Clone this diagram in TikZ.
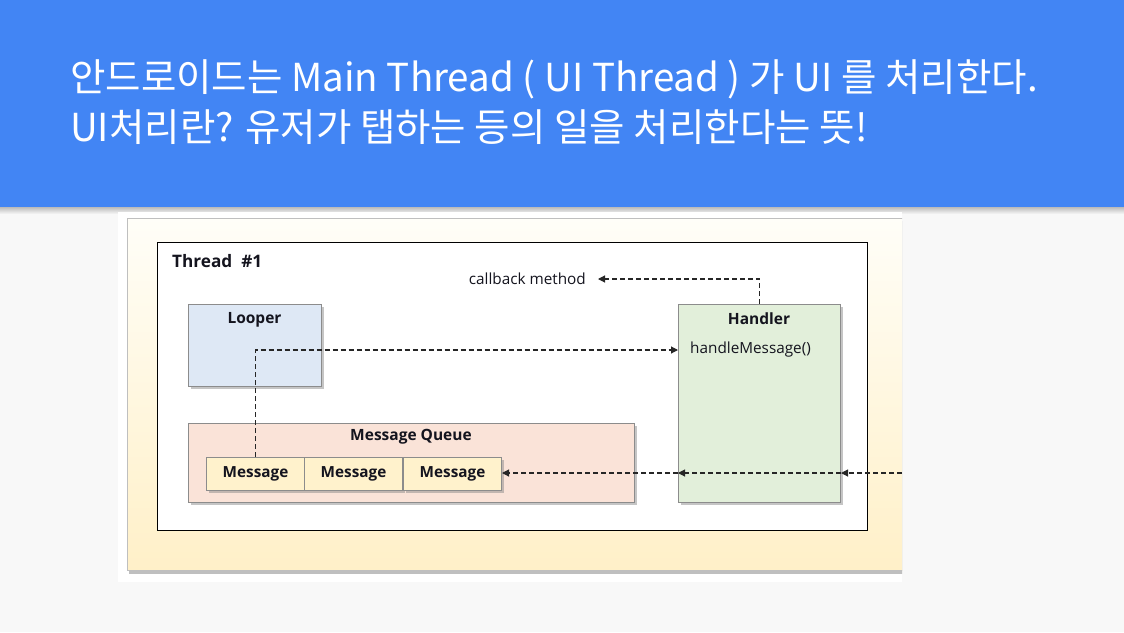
\documentclass[tikz,border=0pt]{standalone}
\usepackage{fontspec}
\setmainfont{Open Sans}
\newfontfamily\krfont{Noto Sans CJK KR}
\usetikzlibrary{arrows.meta,shadows,positioning}
\definecolor{bandblue}{RGB}{66,133,244}
\definecolor{slidebg}{RGB}{248,248,248}
\definecolor{looperblue}{RGB}{222,232,245}
\definecolor{handlergreen}{RGB}{226,239,218}
\definecolor{queuepeach}{RGB}{250,227,216}
\definecolor{msgyellow}{RGB}{255,242,204}
\definecolor{creamtop}{RGB}{255,254,248}
\definecolor{creambot}{RGB}{255,240,200}
\definecolor{boxborder}{RGB}{140,140,140}
\definecolor{txt}{RGB}{20,20,30}
\tikzset{
  box/.style={draw=boxborder, line width=1pt, rectangle, inner sep=0pt,
    drop shadow={opacity=0.45, shadow xshift=2pt, shadow yshift=-2.5pt}},
  msgbox/.style={box, fill=msgyellow, minimum width=98, minimum height=33,
    font=\fontsize{15.3}{17}\selectfont\bfseries, text=txt},
  boxtitle/.style={font=\fontsize{15.5}{18}\selectfont\bfseries, text=txt, inner sep=0pt},
  plain/.style={font=\fontsize{15.3}{17}\selectfont, text=txt, inner sep=0pt},
  flow/.style={draw=black!85, line width=1.1pt, dash pattern=on 5pt off 3pt,
    -{Triangle[length=7pt,width=7pt]}},
  titletext/.style={font=\krfont\fontsize{38.5}{49}\selectfont, text=white, anchor=west, inner sep=0pt}
}
\begin{document}
\begin{tikzpicture}[x=1pt,y=-1pt]
\useasboundingbox (0,0) rectangle (1124,632);
\fill[slidebg] (0,0) rectangle (1124,632);
% band shadow
\shade[top color=black!30, bottom color=slidebg] (0,206) rectangle (1124,214);
\fill[bandblue] (0,0) rectangle (1124,207);
\node[titletext] (t1) at (70,79) {안드로이드는 Main Thread ( UI Thread ) 가 UI 를 처리한다.};
\node[titletext] (t2) at (70,127) {UI처리란? 유저가 탭하는 등의 일을 처리한다는 뜻!};
% image area
\fill[white] (118,212) rectangle (902,582);
\begin{scope}
\clip (118,212) rectangle (902,582);
\fill[black!25] (129,221) rectangle (910,573.5);
\shade[top color=creamtop, bottom color=creambot, draw=black!25] (127,218) rectangle (910,570);
\end{scope}
% thread frame
\node[draw=black, line width=1.2pt, fill=white, minimum width=710, minimum height=288, anchor=north west, inner sep=0pt] (thread) at (157,242) {};
\node[font=\fontsize{17.2}{20}\selectfont\bfseries, text=txt, anchor=west, inner sep=0pt] (threadlbl) at (172,261) {Thread~~\#1};
% Looper
\node[box, fill=looperblue, minimum width=133, minimum height=82, anchor=north west] (looper) at (188,304) {};
\node[boxtitle] (looperlbl) at (254.5,320) {Looper};
% Handler
\node[box, fill=handlergreen, minimum width=162, minimum height=198, anchor=north west] (handler) at (678,304) {};
\node[boxtitle] (handlerlbl) at (759,319) {Handler};
\node[plain, anchor=west] (hm) at (690,350) {handleMessage()};
% Queue
\node[box, fill=queuepeach, minimum width=446, minimum height=79, anchor=north west] (queue) at (188,423) {};
\node[boxtitle] (queuelbl) at (411,437) {Message Queue};
\node[msgbox, anchor=north west] (m1) at (206,457) {Message};
\node[msgbox, anchor=north west] (m2) at (304,457) {Message};
\node[msgbox, anchor=north west] (m3) at (403,457) {Message};
% callback
\node[plain, anchor=east] (cb) at (586,279) {callback method};
% connectors
\draw[flow] (m1.north) |- (handler.west |- hm.west);
\coordinate (ext) at (902,473);
\coordinate (hin) at (handler.east |- ext);
\coordinate (hout) at (handler.west |- ext);
\draw[flow] (ext) -- (hin);
\draw[flow] (hin) -- (hout);
\draw[flow] (hout) -- (m3.east |- ext);
\coordinate (cbend) at ([xshift=12pt]cb.east);
\draw[flow] (handler.north) |- (cbend);
\end{tikzpicture}
\end{document}
